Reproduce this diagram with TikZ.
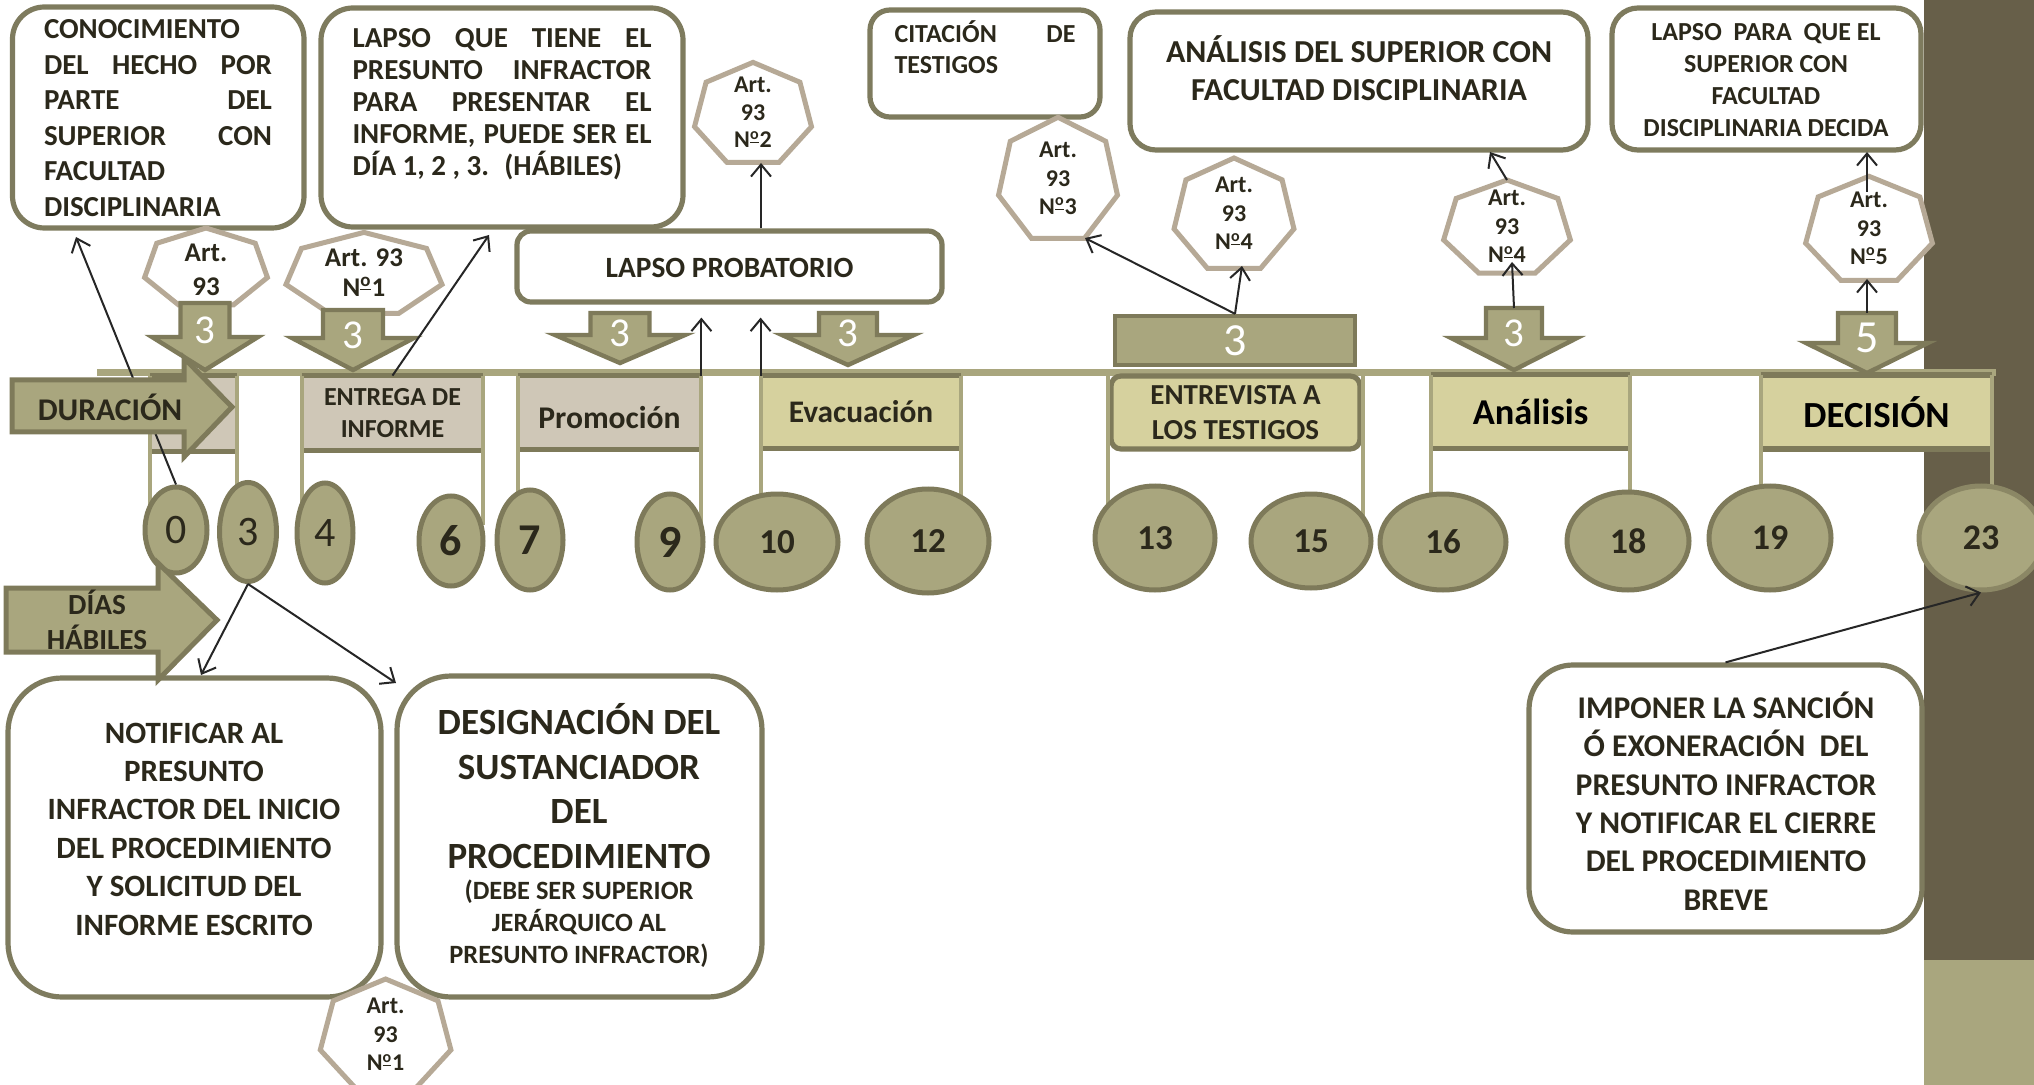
\documentclass[tikz,border=0pt]{standalone}
\usepackage{fontspec}
\setmainfont{Carlito}
\usetikzlibrary{shapes.geometric,arrows.meta,fit,calc}
\definecolor{olive}{HTML}{A9A67E}
\definecolor{olivedk}{HTML}{7E7A5A}
\definecolor{boxbd}{HTML}{7E7B5E}
\definecolor{tanf}{HTML}{CFC7B7}
\definecolor{yelf}{HTML}{D6D19E}
\definecolor{heptbd}{HTML}{B6A996}
\definecolor{bandd}{HTML}{675F49}
\definecolor{txt}{HTML}{2B281B}
\newcommand{\jl}[2]{\makebox[#1][s]{#2}}
\newcommand{\nro}{N\textsuperscript{\underline{o}}}
\newcommand{\hept}[4]{%
  \draw[heptline] ({#1+#3*cos(90)},{#2-#4*sin(90)})
   \foreach \hk in {1,...,6}{ -- ({#1+#3*cos(90+\hk*360/7)},{#2-#4*sin(90+\hk*360/7)}) } -- cycle;}
\newcommand{\darr}[7]{% name, cx, top, shaft half, head base, head half, tip
  \coordinate (#1) at (#2,#3);
  \draw[blk] ({#2-#4},#3) -- ({#2+#4},#3) -- ({#2+#4},#5) -- ({#2+#6},#5) -- (#2,#7)
     -- ({#2-#6},#5) -- ({#2-#4},#5) -- cycle;}
\begin{document}
\begin{tikzpicture}[x=0.5pt,y=-0.5pt,
  every node/.style={text=txt, font=\bfseries},
  tbox/.style={draw=boxbd, line width=2.6pt, fill=white, inner sep=0pt},
  tl/.style={fill=#1, draw=none, inner sep=0pt},
  tbar/.style={draw=olivedk, line width=2.6pt},
  vline/.style={draw=olive, line width=2pt},
  circ/.style={ellipse, fill=olive, draw=olivedk, line width=2.5pt, inner sep=0pt},
  blk/.style={fill=olive, draw=olivedk, line width=2.2pt},
  heptline/.style={draw=heptbd, fill=white, line width=2.5pt},
  conn/.style={draw=black!85, line width=1pt, -{Straight Barb[length=6pt,width=10pt]}},
  num/.style={text=white, font=\fontsize{20.5}{24}\selectfont, inner sep=0pt},
  ttx/.style={inner sep=0pt},
]
\useasboundingbox (0,0) rectangle (2034,1085);
\fill[white] (0,0) rectangle (2034,1085);
% right band
\fill[bandd] (1924,0) rectangle (2034,960);
\fill[olive] (1924,960) rectangle (2034,1085);

% timeline
\draw[olive, line width=3.5pt] (97,373) -- (1996,373);
\coordinate (cy) at (0,525);

% timeline boxes
\node[tl=tanf, minimum width=43.5pt, minimum height=37.5pt] (bS) at (193.5,413.5) {};
\node[tl=tanf, minimum width=90.5pt, minimum height=37pt, font=\bfseries\fontsize{13}{16}\selectfont, align=center] (bEnt) at (392.5,413) {ENTREGA DE\\INFORME};
\node[tl=tanf, minimum width=91.5pt, minimum height=36.5pt] (bPro) at (609.5,412.5) {};
\node[ttx, font=\bfseries\fontsize{15.8}{18}\selectfont] (tPro) at (609.5,418) {Promoción};
\node[tl=yelf, minimum width=100pt, minimum height=36pt, font=\bfseries\fontsize{15.7}{18}\selectfont] (bEva) at (861,412) {Evacuación};
\node[tl=yelf, minimum width=124.5pt, minimum height=36.5pt, draw=olivedk, line width=2.6pt, rounded corners=5pt, font=\bfseries\fontsize{14.5}{17.5}\selectfont, align=center] (bEnv) at (1235.5,412.5) {ENTREVISTA A\\LOS TESTIGOS};
\node[tl=yelf, minimum width=99.5pt, minimum height=36.5pt, text=black, font=\bfseries\fontsize{18.2}{21}\selectfont] (bAna) at (1530.5,411.5) {Análisis};
\node[tl=yelf, minimum width=115.5pt, minimum height=36.5pt, text=black, font=\bfseries\fontsize{18.4}{21}\selectfont] (bDec) at (1876.5,412) {DECISIÓN};
\foreach \b in {bS,bEnt,bPro,bEva,bAna,bDec}{
  \draw[tbar] (\b.north west) -- (\b.north east);
  \draw[tbar] (\b.south west) -- (\b.south east);
}
% bracket lines down to the circles
\foreach \b in {bS,bEnt,bPro,bEva,bEnv,bAna,bDec}{
  \draw[vline] (\b.north west) -- (\b.north west |- cy);
  \draw[vline] (\b.north east) -- (\b.north east |- cy);
}

% circles
\node[circ, minimum width=31pt, minimum height=43pt, font=\fontsize{21}{24}\selectfont] (c0) at (176,530) {0};
\node[circ, minimum width=28.5pt, minimum height=49.5pt, font=\fontsize{21}{24}\selectfont] (c3) at (248,532) {3};
\node[circ, minimum width=28pt, minimum height=50pt, font=\fontsize{21}{24}\selectfont] (c4) at (325,533) {4};
\node[circ, minimum width=32pt, minimum height=45pt, font=\bfseries\fontsize{22}{24}\selectfont] (c6) at (451,541) {6};
\node[circ, minimum width=33pt, minimum height=50pt, font=\bfseries\fontsize{22}{24}\selectfont] (c7) at (530,540) {7};
\node[circ, minimum width=33pt, minimum height=48pt, font=\bfseries\fontsize{23}{24}\selectfont] (c9) at (670,542) {9};
\node[circ, minimum width=61pt, minimum height=48pt, font=\bfseries\fontsize{17.5}{20}\selectfont] (c10) at (777,542) {10};
\node[circ, minimum width=61pt, minimum height=52pt, font=\bfseries\fontsize{17.5}{20}\selectfont] (c12) at (928,541) {12};
\node[circ, minimum width=60pt, minimum height=52pt, font=\bfseries\fontsize{17.5}{20}\selectfont] (c13) at (1155,538) {13};
\node[circ, minimum width=60pt, minimum height=47pt, font=\bfseries\fontsize{17.5}{20}\selectfont] (c15) at (1311,541) {15};
\node[circ, minimum width=63pt, minimum height=48pt, font=\bfseries\fontsize{17.5}{20}\selectfont] (c16) at (1443,542) {16};
\node[circ, minimum width=61pt, minimum height=49pt, font=\bfseries\fontsize{18}{20}\selectfont] (c18) at (1628,541) {18};
\node[circ, minimum width=61pt, minimum height=52pt, font=\bfseries\fontsize{18}{20}\selectfont] (c19) at (1770,538) {19};
\node[circ, minimum width=62pt, minimum height=52pt, draw=olivedk!70!olive, font=\bfseries\fontsize{18}{20}\selectfont] (c23) at (1981,538) {23};

% top boxes
\node[tbox, rounded corners=16pt, fit={(12.5,7) (304,228)}] (bA) {};
\node[tbox, rounded corners=16pt, fit={(321,8) (683,227)}] (bB) {};
\node[tbox, rounded corners=7pt, minimum width=212.5pt, minimum height=35.5pt] (bC) at (729.5,266.5) {};
\node[ttx, font=\bfseries\fontsize{14.7}{17}\selectfont] (tC) at (729.5,268) {LAPSO PROBATORIO};
\node[tbox, rounded corners=10pt, fit={(870,10) (1100,117)}] (bD) {};
\node[tbox, rounded corners=13pt, fit={(1130,12) (1588,150)}] (bE) {};
\node[tbox, rounded corners=13pt, fit={(1612,8) (1921,150)}] (bF) {};
% bottom boxes
\node[tbox, rounded corners=27pt, fit={(8,678) (381,997)}] (bG) {};
\node[tbox, rounded corners=27pt, fit={(397,676) (762,997)}] (bH) {};
\node[tbox, rounded corners=22pt, fit={(1529,665) (1922,932)}] (bI) {};

% box texts
\node[ttx, align=left, font=\bfseries\fontsize{14.5}{17.75}\selectfont] (tA) at (158,118)
  {CONOCIMIENTO\\\jl{114pt}{DEL HECHO POR}\\\jl{114pt}{PARTE DEL}\\\jl{114pt}{SUPERIOR CON}\\FACULTAD\\DISCIPLINARIA};
\node[ttx, align=left, font=\bfseries\fontsize{14.5}{16}\selectfont] (tB) at (502,104)
  {\jl{149.5pt}{LAPSO QUE TIENE EL}\\\jl{149.5pt}{PRESUNTO INFRACTOR}\\\jl{149.5pt}{PARA PRESENTAR EL}\\\jl{149.5pt}{INFORME, PUEDE SER EL}\\DÍA 1, 2 , 3.~ (HÁBILES)};
\node[ttx, align=left, font=\bfseries\fontsize{13}{15.5}\selectfont] (tD) at (985,47)
  {\jl{90.5pt}{CITACIÓN DE}\\TESTIGOS};
\node[ttx, align=center, font=\bfseries\fontsize{16}{19}\selectfont] (tE) at (1359,68)
  {ANÁLISIS DEL SUPERIOR CON\\FACULTAD DISCIPLINARIA};
\node[ttx, align=center, font=\bfseries\fontsize{13}{16}\selectfont] (tF) at (1766,80)
  {LAPSO~ PARA~ QUE EL\\SUPERIOR CON\\FACULTAD\\DISCIPLINARIA DECIDA};
\node[ttx, align=center, font=\bfseries\fontsize{15.5}{19.2}\selectfont] (tG) at (194,829)
  {NOTIFICAR AL\\PRESUNTO\\INFRACTOR DEL INICIO\\DEL PROCEDIMIENTO\\Y SOLICITUD DEL\\INFORME ESCRITO};
\node[ttx, align=center, font=\bfseries\fontsize{18.5}{22.3}\selectfont] (tH) at (579,786)
  {DESIGNACIÓN DEL\\SUSTANCIADOR\\DEL\\PROCEDIMIENTO};
\node[ttx, align=center, font=\bfseries\fontsize{13.2}{16}\selectfont] (tH2) at (579,924)
  {(DEBE SER SUPERIOR\\JERÁRQUICO AL\\PRESUNTO INFRACTOR)};
\node[ttx, align=center, font=\bfseries\fontsize{15.8}{19.2}\selectfont] (tI) at (1726,801)
  {IMPONER LA SANCIÓN\\Ó EXONERACIÓN~ DEL\\PRESUNTO INFRACTOR\\Y NOTIFICAR EL CIERRE\\DEL PROCEDIMIENTO\\BREVE};

% heptagons
\hept{206}{268.5}{63}{40.5}
\node[ttx, align=center, font=\bfseries\fontsize{13.5}{17}\selectfont] (h1) at (206,270) {Art.\\93};
\hept{364}{275}{80}{42.6}
\node[ttx, align=center, font=\bfseries\fontsize{13.5}{15}\selectfont] (h2) at (364,273) {Art. 93\\\nro1};
\hept{753}{115}{60}{52.6}
\node[ttx, align=center, font=\bfseries\fontsize{12}{13.75}\selectfont] (h3) at (753,112.5) {Art.\\93\\\nro2};
\hept{1058}{181}{61}{63.7}
\node[ttx, align=center, font=\bfseries\fontsize{12}{14.25}\selectfont] (h4) at (1058,178.5) {Art.\\93\\\nro3};
\hept{1234}{216}{61.5}{58}
\node[ttx, align=center, font=\bfseries\fontsize{12}{14.25}\selectfont] (h5) at (1234,213.5) {Art.\\93\\\nro4};
\hept{1507}{229}{65}{49}
\node[ttx, align=center, font=\bfseries\fontsize{12}{14.25}\selectfont] (h6) at (1507,226.5) {Art.\\93\\\nro4};
\hept{1869}{231}{65}{54.7}
\node[ttx, align=center, font=\bfseries\fontsize{12}{14.25}\selectfont] (h7) at (1869,228.5) {Art.\\93\\\nro5};
\hept{385.6}{1037}{67}{58}
\node[ttx, align=center, font=\bfseries\fontsize{12}{14.25}\selectfont] (h8) at (385.6,1034.5) {Art.\\93\\\nro1};

% down arrows
\darr{da1}{205}{303}{24.5}{337}{53}{370}
\node[num] (n1) at (205,330) {3};
\darr{da2}{353}{310}{30}{338}{61}{370}
\node[num] (n2) at (353,335) {3};
\darr{da3}{620}{313}{29.5}{335}{65}{363}
\node[num] (n3) at (620,333) {3};
\darr{da4}{848}{313}{29}{335}{66}{365}
\node[num] (n4) at (848,333) {3};
\node[blk, minimum width=120pt, minimum height=24.5pt, inner sep=0pt] (blk) at (1235,340.5) {};
\node[num, font=\fontsize{23}{26}\selectfont] (n5) at (1235,341) {3};
\darr{da6}{1514}{308}{28}{338}{63}{370}
\node[num] (n6) at (1514,333) {3};
\darr{da7}{1867}{313}{29}{343}{61}{373}
\node[num, font=\fontsize{23}{26}\selectfont] (n7) at (1867,338) {5};

% connectors
\coordinate (pA) at (76,237);
\draw[conn] (c0.north) -- (pA);
\coordinate (pB) at (489,235);
\draw[conn] (bEnt.north) -- (pB);
\coordinate (pG) at (201,675);
\draw[conn] (c3.south) -- (pG);
\coordinate (pH) at (396,683);
\draw[conn] (c3.south) -- (pH);
\draw[conn, shorten >=6.5pt] (bPro.north east) -- (bPro.north east |- bC.south);
\draw[conn, shorten >=6.5pt] (bEva.north west) -- (bEva.north west |- bC.south);
\coordinate (pH3) at (761,163);
\draw[conn] (pH3 |- bC.north) -- (pH3);
\coordinate (pH4) at (1085,238);
\draw[conn] (blk.north) -- (pH4);
\coordinate (pH5) at (1242,266);
\draw[conn] (blk.north) -- (pH5);
\coordinate (pH6b) at (1512,262);
\draw[conn] (da6) -- (pH6b);
\coordinate (pH6t) at (1507,180);
\coordinate (pE) at (1490,152);
\draw[conn] (pH6t) -- (pE);
\coordinate (pH7b) at (1867,279);
\draw[conn] (da7) -- (pH7b);
\coordinate (pH7i) at (1867,192);
\coordinate (pF) at (1867,152);
\draw[conn] (pH7i) -- (pF);
\draw[conn] (bI.north) -- (c23.south);

% DURACION and DIAS HABILES arrows
\draw[blk, line width=2.5pt] (12,380) -- (184,380) -- (184,358) -- (232,407) -- (184,457) -- (184,432) -- (12,432) -- cycle;
\node[ttx, font=\bfseries\fontsize{15.8}{18}\selectfont] (tDur) at (110,407) {DURACIÓN};
\draw[blk, line width=2.5pt] (6,588) -- (158,588) -- (158,563) -- (217,620) -- (158,680) -- (158,652) -- (6,652) -- cycle;
\node[ttx, align=center, font=\bfseries\fontsize{14.6}{17.5}\selectfont] (tDias) at (97,620) {DÍAS\\HÁBILES};
\end{tikzpicture}
\end{document}
